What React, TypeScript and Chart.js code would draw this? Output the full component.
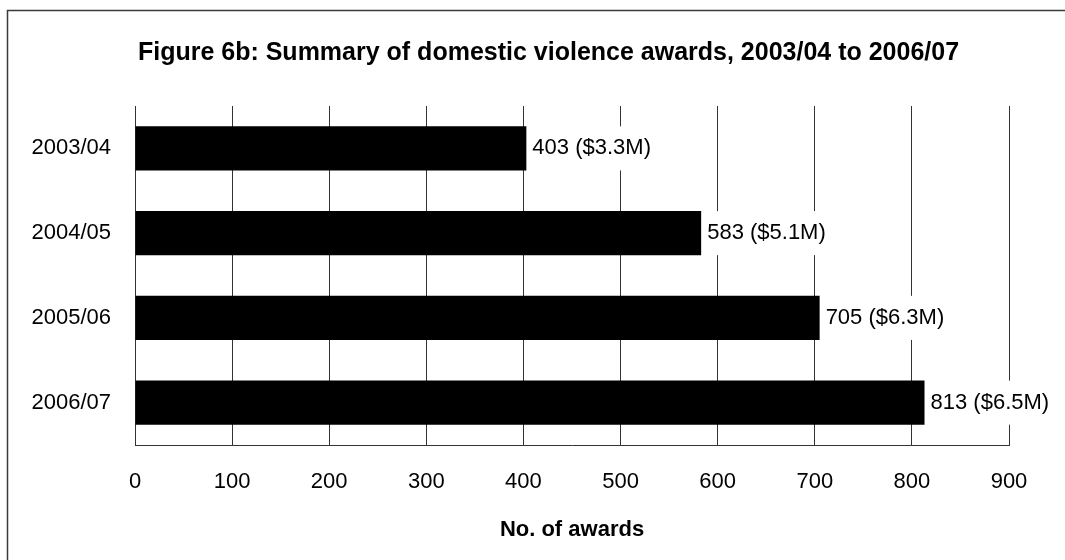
import React, { useEffect, useRef } from "react";
import { Chart, registerables } from "chart.js";

Chart.register(...registerables);

const categories = ["2003/04", "2004/05", "2005/06", "2006/07"];
const awards = [403, 583, 705, 813];
const amounts = ["$3.3M", "$5.1M", "$6.3M", "$6.5M"];
const xTicks = [0, 100, 200, 300, 400, 500, 600, 700, 800, 900];
const titleText = "Figure 6b: Summary of domestic violence awards, 2003/04 to 2006/07";
const xAxisTitle = "No. of awards";

const FONT = "'Liberation Sans', Arial, Helvetica, sans-serif";

const framePlugin = {
  id: "frame",
  beforeDraw(chart: any) {
    const { ctx, width, height } = chart;
    ctx.save();
    ctx.fillStyle = "#ffffff";
    ctx.fillRect(0, 0, width, height);
    ctx.strokeStyle = "#3a3a3a";
    ctx.lineWidth = 1.5;
    ctx.strokeRect(7.5, 10.5, width + 20, height + 20);
    ctx.restore();
  },
};

const titlePlugin = {
  id: "figTitle",
  afterDraw(chart: any) {
    const { ctx } = chart;
    ctx.save();
    ctx.font = `bold 25px ${FONT}`;
    ctx.fillStyle = "#000";
    ctx.textAlign = "center";
    ctx.textBaseline = "middle";
    ctx.fillText(titleText, 548.5, 53);
    ctx.restore();
  },
};

const labelPlugin = {
  id: "barLabels",
  afterDatasetsDraw(chart: any) {
    const { ctx } = chart;
    const meta = chart.getDatasetMeta(0);
    ctx.save();
    ctx.font = `22px ${FONT}`;
    ctx.textAlign = "left";
    ctx.textBaseline = "middle";
    meta.data.forEach((bar: any, i: number) => {
      const text = `${awards[i]} (${amounts[i]})`;
      const w = ctx.measureText(text).width;
      const h = bar.height;
      ctx.fillStyle = "#ffffff";
      ctx.fillRect(bar.x + 1, bar.y - h / 2, w + 9, h);
      ctx.fillStyle = "#000";
      ctx.fillText(text, bar.x + 6, bar.y);
    });
    ctx.restore();
  },
};

export default function App() {
  const ref = useRef<HTMLCanvasElement>(null);
  useEffect(() => {
    if (!ref.current) return;
    const chart = new Chart(ref.current, {
      type: "bar",
      data: {
        labels: categories,
        datasets: [
          {
            data: awards,
            backgroundColor: "#000000",
            borderWidth: 0,
            categoryPercentage: 0.52,
            barPercentage: 1,
          },
        ],
      },
      options: {
        indexAxis: "y",
        animation: false,
        responsive: false,
        maintainAspectRatio: false,
        layout: { padding: { left: 0, right: 56, top: 106, bottom: 0 } },
        plugins: {
          legend: { display: false },
          tooltip: { enabled: false },
          title: { display: false },
        },
        scales: {
          x: {
            type: "linear",
            min: 0,
            max: 900,
            afterBuildTicks: (scale: any) => {
              scale.ticks = xTicks.map((v) => ({ value: v }));
            },
            afterFit: (scale: any) => {
              scale.height = 115;
            },
            grid: { display: true, drawTicks: false, color: "#333", lineWidth: 1 },
            border: { display: true, color: "#333", width: 1 },
            ticks: { color: "#000", padding: 24, font: { family: FONT, size: 22 } },
            title: {
              display: true,
              text: xAxisTitle,
              color: "#000",
              font: { family: FONT, size: 22, weight: "bold" },
              padding: { top: 0, bottom: 17 },
            },
          },
          y: {
            type: "category",
            afterFit: (scale: any) => {
              scale.width = 135;
            },
            grid: { display: false, drawTicks: false },
            border: { display: true, color: "#333", width: 1 },
            ticks: { color: "#000", padding: 24, font: { family: FONT, size: 22 } },
          },
        },
      },
      plugins: [framePlugin, titlePlugin, labelPlugin],
    });
    return () => chart.destroy();
  }, []);
  return (
    <div style={{ position: "absolute", left: 0, top: 0, width: 1065, height: 560 }}>
      <canvas ref={ref} width={1065} height={560} />
    </div>
  );
}
